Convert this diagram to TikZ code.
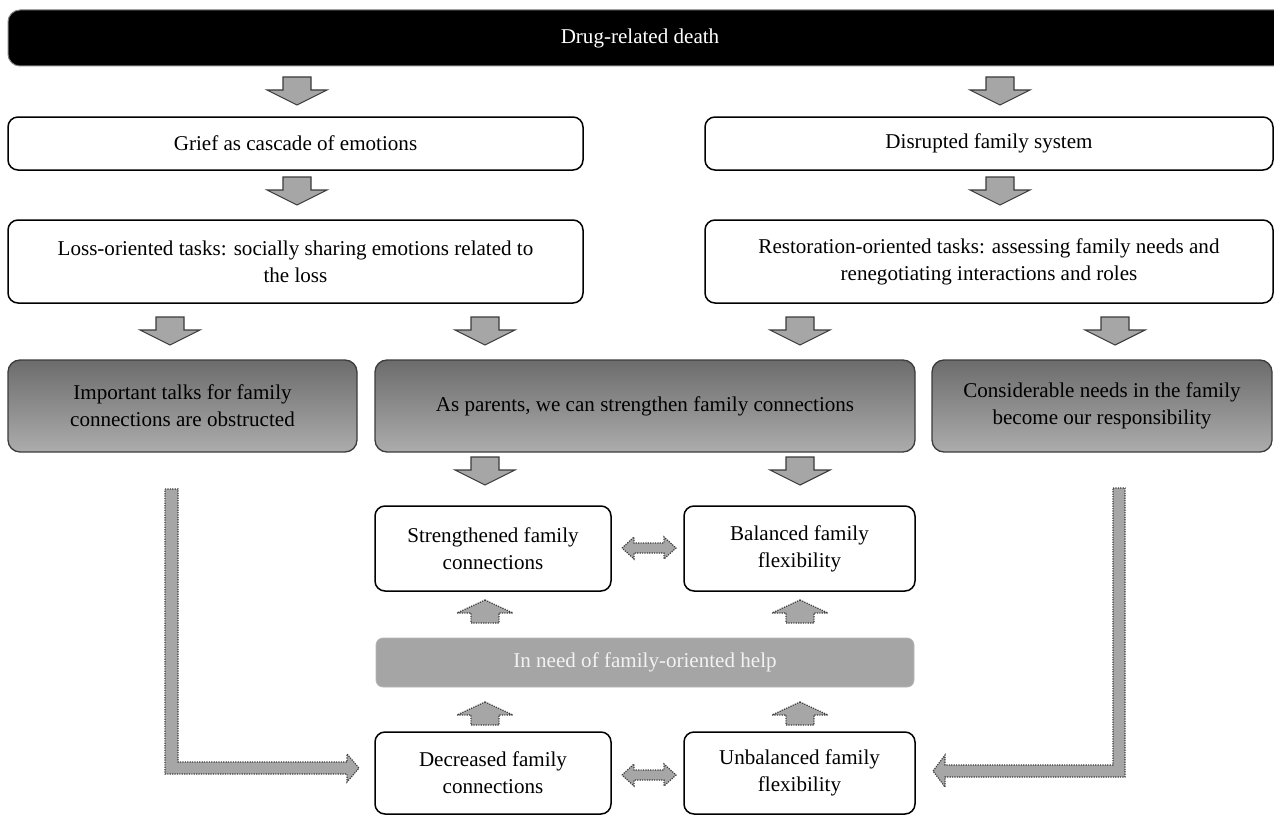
\documentclass[tikz,border=0pt]{standalone}
\usepackage{fontspec}
\setmainfont{Liberation Serif}
\newlength\pxu
\setlength\pxu{0.75pt}
\definecolor{arrowgray}{RGB}{166,166,166}
\definecolor{edgegray}{RGB}{60,60,60}
\definecolor{helpgray}{RGB}{165,165,165}
\definecolor{helptext}{RGB}{242,242,242}
\definecolor{gradtop}{RGB}{108,108,108}
\definecolor{gradbot}{RGB}{172,172,172}
\begin{document}
\begin{tikzpicture}[x=0.75pt,y=-0.75pt,
  every node/.style={font=\fontsize{15.8pt}{20.3pt}\selectfont, align=center, inner sep=0pt},
  wbox/.style={draw=black, line width=1.5\pxu, rounded corners=10\pxu, fill=white},
  gbox/.style={draw=edgegray, line width=1.3\pxu, rounded corners=12\pxu, top color=gradtop, bottom color=gradbot},
  blockarrow/.style={fill=arrowgray, draw=edgegray, line width=1.1\pxu, line join=miter},
  dotarrow/.style={fill=arrowgray, draw=edgegray, line width=1.2\pxu, dash pattern=on 1.2\pxu off 1.2\pxu},
  downarr/.pic={\draw[blockarrow] (-14,0) -- (14,0) -- (14,13) -- (30,13) -- (0,28) -- (-30,13) -- (-14,13) -- cycle;},
  uparr/.pic={\draw[dotarrow] (0,0) -- (28,13) -- (14,13) -- (14,23) -- (-14,23) -- (-14,13) -- (-28,13) -- cycle;},
  dblarr/.pic={\draw[dotarrow] (-27,0) -- (-15,-11) -- (-15,-5) -- (15,-5) -- (15,-11) -- (27,0) -- (15,11) -- (15,5) -- (-15,5) -- (-15,11) -- cycle;}
]
\clip (0,0) rectangle (1274,817);
\useasboundingbox (0,0) rectangle (1274,817);
\fill[white] (0,0) rectangle (1274,817);

% top bar (runs past the right edge)
\filldraw[fill=black, draw=gray, line width=1\pxu, rounded corners=12\pxu] (1290,10) -- (8,10) -- (8,66) -- (1290,66);
\node[text=white] (top) at (640,38) {Drug-related death};

% row 1
\node[wbox, minimum width=575\pxu, minimum height=53\pxu] (grief) at (295.5,143.5) {Grief as cascade of emotions};
\node[wbox, minimum width=568\pxu, minimum height=53\pxu] (disr) at (989,143.5) {Disrupted family system};

% row 2
\node[wbox, minimum width=575\pxu, minimum height=83\pxu] (loss) at (295.5,261.5) {Loss-oriented tasks: socially sharing emotions related to\\the loss};
\node[wbox, minimum width=568\pxu, minimum height=83\pxu] (rest) at (989,261.5) {Restoration-oriented tasks: assessing family needs and\\renegotiating interactions and roles};

% gray row
\node[gbox, minimum width=349\pxu, minimum height=92\pxu] (talks) at (182.5,406) {Important talks for family\\connections are obstructed};
\node[gbox, minimum width=540\pxu, minimum height=92\pxu] (parents) at (645,406) {As parents, we can strengthen family connections};
\node[gbox, minimum width=340\pxu, minimum height=92\pxu] (needs) at (1102,406) {Considerable needs in the family\\become our responsibility};

% outcome boxes
\node[wbox, minimum width=236\pxu, minimum height=85\pxu] (strong) at (493,548.5) {Strengthened family\\connections};
\node[wbox, minimum width=231\pxu, minimum height=85\pxu] (balanced) at (799.5,548.5) {Balanced family\\flexibility};
\node[draw=helpgray!80, line width=0.8\pxu, fill=helpgray, rounded corners=7\pxu, text=helptext, minimum width=538\pxu, minimum height=49\pxu] (help) at (645,662.5) {In need of family-oriented help};
\node[wbox, minimum width=236\pxu, minimum height=82\pxu] (decr) at (493,773) {Decreased family\\connections};
\node[wbox, minimum width=231\pxu, minimum height=82\pxu] (unbal) at (799.5,773) {Unbalanced family\\flexibility};

% block down arrows
\pic at (297,77) {downarr};
\pic at (1000,77) {downarr};
\pic at (297,177) {downarr};
\pic at (1000,177) {downarr};
\pic at (170,317) {downarr};
\pic at (485,317) {downarr};
\pic at (800,317) {downarr};
\pic at (1115,317) {downarr};
\pic at (485,457) {downarr};
\pic at (800,457) {downarr};

% dotted up arrows
\pic at (485,600) {uparr};
\pic at (800,600) {uparr};
\pic at (485,702) {uparr};
\pic at (800,702) {uparr};

% double arrows
\pic at (649,548) {dblarr};
\pic at (649,775) {dblarr};

% L-shaped dotted arrows
\draw[dotarrow] (165,489) -- (178,489) -- (178,762) -- (347,762) -- (347,754) -- (359,768) -- (347,782) -- (347,774) -- (165,774) -- cycle;
\draw[dotarrow] (1113,488) -- (1125,488) -- (1125,777) -- (945,777) -- (945,787) -- (933,771) -- (945,755) -- (945,765) -- (1113,765) -- cycle;
\end{tikzpicture}
\end{document}
